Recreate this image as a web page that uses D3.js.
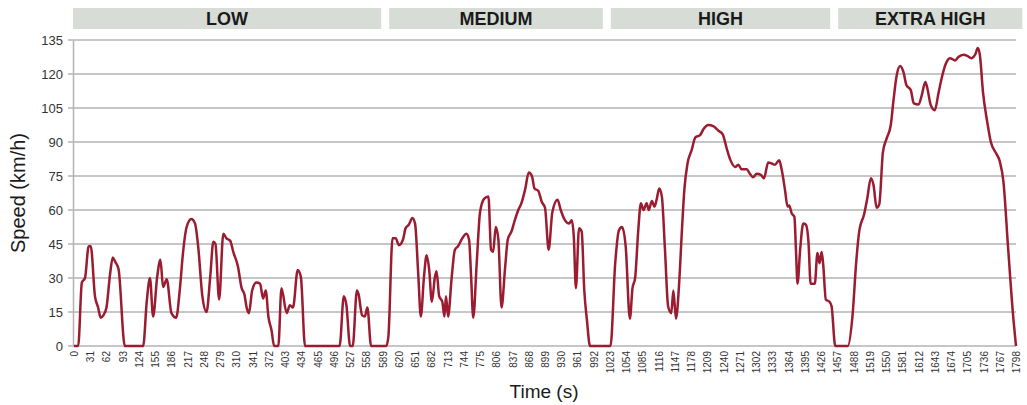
<!DOCTYPE html>
<html>
<head>
<meta charset="utf-8">
<script src="https://cdn.jsdelivr.net/npm/d3@7"></script>
<style>
  body { margin: 0; background: #fff; }
  text { font-family: "Liberation Sans", Arial, sans-serif; }
</style>
</head>
<body>
<div id="chart"></div>
<script>
// Chart data
const phaseNames = ['LOW', 'MEDIUM', 'HIGH', 'EXTRA HIGH'];
const phaseEdges = [0, 594, 1017, 1451, 1810];

const yTicks = [0, 15, 30, 45, 60, 75, 90, 105, 120, 135];
const xTickLabels = [0, 31, 62, 93, 124, 155, 186, 217, 248, 279, 310, 341, 372, 403, 434, 465, 496, 527,
  558, 589, 620, 651, 682, 713, 744, 775, 806, 837, 868, 899, 930, 961, 992, 1023, 1054, 1085, 1116,
  1147, 1178, 1209, 1240, 1271, 1302, 1333, 1364, 1395, 1426, 1457, 1488, 1519, 1550, 1581, 1612,
  1643, 1674, 1705, 1736, 1767, 1798];

const timeSec = [
  0, 8, 15, 21, 28, 32, 40, 46, 51, 56, 62, 69, 74, 79, 85, 97, 132, 139, 145, 151, 159, 165, 170, 177,
  186, 195, 202, 208, 215, 224, 231, 237, 245, 253, 260, 266, 270, 277, 285, 291, 298, 304, 313, 320,
  325, 330, 334, 340, 348, 355, 361, 366, 371, 377, 382, 390, 396, 406, 412, 418, 427, 433, 441, 507,
  515, 520, 527, 532, 540, 543, 550, 555, 560, 567, 596, 600, 608, 614, 620, 628, 633, 639, 646, 651,
  657, 662, 668, 673, 678, 683, 689, 692, 697, 703, 707, 710, 714, 721, 727, 733, 741, 749, 754, 758,
  762, 769, 775, 783, 791, 796, 800, 805, 810, 816, 823, 828, 835, 842, 848, 854, 861, 868, 874, 879,
  886, 893, 899, 906, 913, 923, 929, 937, 945, 950, 954, 958, 964, 969, 974, 979, 985, 1024, 1033, 1040,
  1046, 1053, 1061, 1066, 1071, 1077, 1082, 1087, 1093, 1097, 1103, 1108, 1112, 1117, 1122, 1128, 1134,
  1140, 1144, 1149, 1155, 1160, 1165, 1171, 1179, 1186, 1195, 1201, 1211, 1220, 1230, 1238, 1246, 1253,
  1262, 1268, 1274, 1284, 1290, 1296, 1303, 1311, 1317, 1325, 1332, 1338, 1346, 1351, 1357, 1362, 1365,
  1370, 1375, 1378, 1381, 1386, 1392, 1397, 1402, 1406, 1414, 1419, 1423, 1427, 1430, 1435, 1442, 1446,
  1453, 1477, 1486, 1493, 1499, 1508, 1514, 1521, 1526, 1532, 1537, 1544, 1551, 1559, 1564, 1570, 1577,
  1583, 1589, 1597, 1603, 1612, 1618, 1625, 1629, 1635, 1643, 1650, 1656, 1664, 1672, 1682, 1688, 1698,
  1705, 1713, 1721, 1725, 1729, 1735, 1743, 1750, 1760, 1767, 1774, 1783, 1793, 1798
];

const speedKmh = [
  0, 0, 28, 30, 44, 44, 22, 17, 12.5, 13.5, 17, 32, 39, 37, 34, 0, 0, 20, 30, 13, 31, 38, 26, 29.5,
  14.5, 12.5, 25, 41, 52.5, 56, 54, 44, 22, 15, 30.5, 46, 45, 20.5, 49.5, 47.5, 46.5, 41.5, 35, 25.5,
  23, 16.5, 14.5, 24.5, 28, 27.5, 21, 24.5, 13, 7, 0, 0, 25.5, 14.5, 18, 17, 33.5, 30.5, 0, 0,
  22, 18, 0, 0, 24.5, 23, 13.5, 13, 17, 0, 0, 4, 47.5, 47.5, 44.5, 47, 52, 53.5, 56.5, 54,
  32, 13, 30.5, 40, 33.5, 19.5, 30.5, 33, 22, 19.5, 13, 22, 13, 30.5, 42.5, 44, 47.5, 49.5, 47, 30.5,
  12.5, 38, 59, 65, 66, 42.5, 41.5, 52.5, 47, 17, 35, 47, 50.5, 56, 60, 63, 69, 76.5, 75, 69.5,
  68.5, 63.5, 61, 42.5, 59, 64.5, 60, 55.5, 54, 55.5, 48, 25.5, 52, 50.5, 24.5, 11.5, 0, 0, 36.5, 51,
  52.5, 44, 12, 25.5, 30, 51, 63, 60, 63, 60, 64, 61.5, 64.5, 69.5, 66, 42.5, 17.5,
  14.5, 24.5, 12, 27.5, 49.5, 69, 80.5, 86.5, 92, 93, 95.5, 97.5, 97, 95, 93.5, 87, 82,
  79, 80, 78, 78, 76, 74.5, 76, 75.5, 74, 81, 80.5, 80, 82, 77.5, 69, 61.5, 62,
  58.5, 57, 42.5, 27.5, 42.5, 54, 53.5, 45.5, 27.5, 27.5, 41, 36.5, 41.5, 36, 20.5, 19.5, 17.5,
  0, 0, 13.5, 37, 51, 58, 65, 74, 71, 61, 62.5, 85.5, 91.5, 97.5, 108, 119, 123.5,
  121, 115, 113, 107, 106.5, 110.5, 116.5, 113.5, 106.5, 104, 111.5, 118, 124.5, 127, 126, 127.5, 128.5,
  128, 127, 129, 131.5, 128.5, 112, 99, 90, 85, 81.5, 72.5, 43, 12, 0
];

const width = 1027;
const height = 405;
const margin = { top: 40, right: 11, bottom: 59, left: 74 };

const svg = d3.select('#chart').append('svg')
  .attr('width', width)
  .attr('height', height);

const x = d3.scaleLinear()
  .domain([0, 1798])
  .range([margin.left, width - margin.right]);

const y = d3.scaleLinear()
  .domain([0, 135])
  .range([height - margin.bottom, margin.top]);

// Phase header bands
const phases = phaseNames.map((name, i) => ({ name, start: phaseEdges[i], end: phaseEdges[i + 1] }));
const bandGap = 4;
const band = svg.append('g');
phases.forEach((p, i) => {
  const x0 = i === 0 ? x(p.start) - 1 : x(p.start) + bandGap;
  const x1 = i === phases.length - 1 ? x(p.end) : x(p.end) - bandGap;
  band.append('rect')
    .attr('x', x0)
    .attr('y', 8)
    .attr('width', x1 - x0)
    .attr('height', 21)
    .attr('fill', '#d7dcd6');
  band.append('text')
    .attr('x', (x0 + x1) / 2)
    .attr('y', 25)
    .attr('text-anchor', 'middle')
    .attr('font-size', 18)
    .attr('font-weight', 'bold')
    .attr('fill', '#1a1a1a')
    .text(p.name);
});

// Horizontal grid lines
svg.append('g')
  .selectAll('line')
  .data(yTicks)
  .join('line')
  .attr('x1', margin.left - 6)
  .attr('x2', width - margin.right)
  .attr('y1', d => y(d))
  .attr('y2', d => y(d))
  .attr('stroke', '#b3b3b3')
  .attr('stroke-width', 1.5);

// Y axis
const yAxis = svg.append('g')
  .attr('transform', `translate(${margin.left - 1},0)`)
  .call(d3.axisLeft(y).tickValues(yTicks).tickSize(0).tickPadding(10));
yAxis.select('.domain').attr('stroke', '#b3b3b3').attr('stroke-width', 1.5);
yAxis.selectAll('text')
  .attr('font-size', 13)
  .attr('fill', '#333')
  .style('font-family', '"Liberation Sans", Arial, sans-serif');

// X axis with rotated labels
const xAxis = svg.append('g')
  .attr('transform', `translate(0,${y(0)})`)
  .call(d3.axisBottom(x).tickValues(xTickLabels).tickSize(0).tickFormat(d3.format('d')));
xAxis.select('.domain').remove();
xAxis.selectAll('text')
  .attr('transform', 'rotate(-90)')
  .attr('text-anchor', 'end')
  .attr('x', -5)
  .attr('y', 0)
  .attr('dy', '0.35em')
  .attr('font-size', 10)
  .attr('fill', '#333')
  .style('font-family', '"Liberation Sans", Arial, sans-serif');

// Speed trace
const points = timeSec.map((t, i) => ({ t, v: speedKmh[i] }));
const line = d3.line()
  .x(d => x(d.t))
  .y(d => y(d.v))
  .curve(d3.curveMonotoneX);

svg.append('path')
  .datum(points)
  .attr('fill', 'none')
  .attr('stroke', '#9b1b30')
  .attr('stroke-width', 2.5)
  .attr('stroke-linejoin', 'round')
  .attr('d', line);

// Axis titles
svg.append('text')
  .attr('transform', `translate(25,${(y(0) + y(135)) / 2}) rotate(-90)`)
  .attr('text-anchor', 'middle')
  .attr('font-size', 20)
  .attr('fill', '#1a1a1a')
  .text('Speed (km/h)');

svg.append('text')
  .attr('x', 544)
  .attr('y', 398)
  .attr('text-anchor', 'middle')
  .attr('font-size', 19)
  .attr('fill', '#1a1a1a')
  .text('Time (s)');
</script>
</body>
</html>
